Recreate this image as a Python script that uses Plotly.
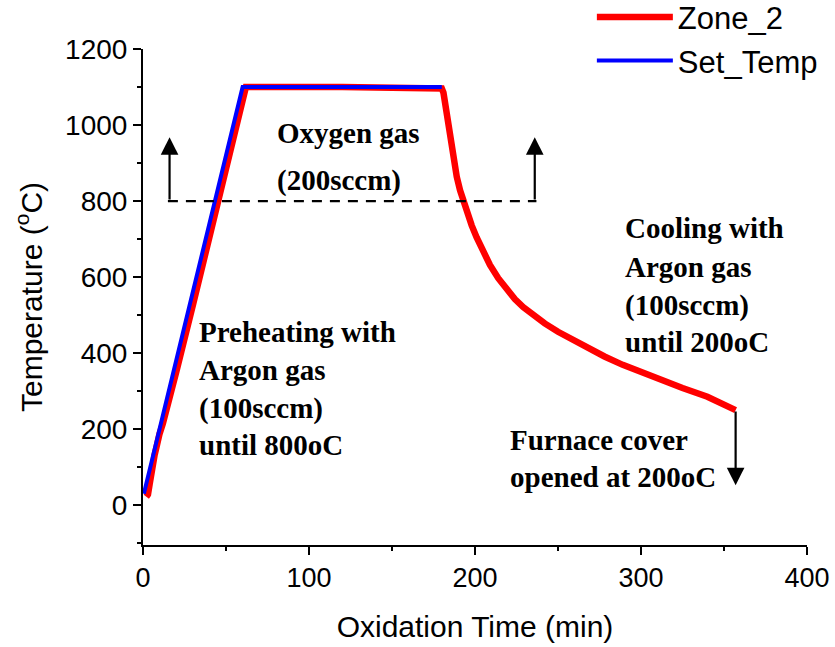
import plotly.graph_objects as go

# ---- data ----
zone2_time = [2.0, 3.0, 4.0, 5.0, 6.0, 7.0, 8.0, 9.0, 10.0, 12.0, 15.0, 20.0, 30.0, 40.0, 50.0, 60.5, 62.0,
              120.0, 178.5, 180.0, 181.0, 182.0, 183.0, 184.0, 185.0, 186.0, 187.0, 189.0, 191.0,
              193.0, 195.0, 198.0, 201.0, 205.0, 209.0, 214.0, 219.0, 224.0, 229.0, 235.0, 242.0,
              250.0, 259.0, 268.0, 278.0, 289.0, 300.0, 312.0, 325.0, 340.0, 357.0]
zone2_temp = [22, 28, 55, 90, 98, 132, 150, 172, 188, 215, 262, 350, 525, 705, 890, 1085, 1100,
              1100, 1100, 1096, 1085, 1058, 1022, 988, 958, 930, 905, 864, 828,
              798, 772, 736, 704, 666, 632, 597, 567, 542, 521, 500, 478,
              456, 434, 413, 391, 369, 349, 329, 308, 285, 250]

set_time = [0.5, 60.0, 180.0]
set_temp = [30, 1100, 1100]

# dashed 800 line and arrows (data coords)
dash_x = [15, 237]
dash_y = [800, 800]
arrows_up_x = [16, 236]
arrow_up_from = 800
arrow_up_to = 968
arrow_down_x = 357
arrow_down_from = 250
arrow_down_to = 52

# text labels (left x, y)
oxygen_lines = ["Oxygen gas", "(200sccm)"]
oxygen_x = 79.5
oxygen_y = [979, 853]
preheat_lines = ["Preheating with", "Argon gas", "(100sccm)", "until 800oC"]
preheat_x = 32.5
preheat_y = [455, 355, 255, 158]
cool_lines = ["Cooling with", "Argon gas", "(100sccm)", "until 200oC"]
cool_x = 289
cool_y = [729, 626, 526, 429]
furnace_lines = ["Furnace cover", "opened at 200oC"]
furnace_x = 220
furnace_y = [171, 74]

x_ticks = [0, 100, 200, 300, 400]
y_ticks = [0, 200, 400, 600, 800, 1000, 1200]

fig = go.Figure()
fig.add_trace(go.Scatter(x=zone2_time, y=zone2_temp, mode="lines", name="Zone_2",
                         line=dict(color="#ff0000", width=6.5), legendgroup="a"))
fig.add_trace(go.Scatter(x=set_time, y=set_temp, mode="lines", name="Set_Temp",
                         line=dict(color="#0000ff", width=4), legendgroup="b"))
fig.add_trace(go.Scatter(x=dash_x, y=dash_y, mode="lines", showlegend=False,
                         line=dict(color="black", width=2.3, dash="10px,8px")))

serif = dict(family="Liberation Serif, Times New Roman, serif", size=29, color="black")
for lines, x0, ys in [(oxygen_lines, oxygen_x, oxygen_y), (preheat_lines, preheat_x, preheat_y),
                      (cool_lines, cool_x, cool_y), (furnace_lines, furnace_x, furnace_y)]:
    for t, yy in zip(lines, ys):
        fig.add_annotation(x=x0, y=yy, text="<b>" + t + "</b>", showarrow=False,
                           xanchor="left", yanchor="middle", font=serif)

for ax_ in arrows_up_x:
    fig.add_annotation(x=ax_, y=arrow_up_to, ax=ax_, ay=arrow_up_from, axref="x", ayref="y",
                       text="", showarrow=True, arrowhead=2, arrowsize=1.6, arrowwidth=2.2,
                       arrowcolor="black")
fig.add_annotation(x=arrow_down_x, y=arrow_down_to, ax=arrow_down_x, ay=arrow_down_from,
                   axref="x", ayref="y", text="", showarrow=True, arrowhead=2, arrowsize=1.6,
                   arrowwidth=2.2, arrowcolor="black")

sans = "Liberation Sans, Arial, sans-serif"
fig.update_layout(
    width=835, height=647,
    margin=dict(l=143, r=28, t=49, b=102, autoexpand=False),
    paper_bgcolor="white", plot_bgcolor="white",
    font=dict(family=sans, size=27, color="black"),
    showlegend=True,
    legend=dict(x=0.676, y=1.118, xanchor="left", yanchor="top", bgcolor="rgba(0,0,0,0)",
                font=dict(family=sans, size=31), traceorder="grouped", tracegroupgap=0,
                itemwidth=76),
    xaxis=dict(range=[0, 400], tickvals=x_ticks, showline=True, linecolor="black", linewidth=2,
               ticks="outside", ticklen=8, tickwidth=2, tickcolor="black", showgrid=False,
               zeroline=False, mirror=False, automargin=False,
               minor=dict(dtick=50, ticks="outside", ticklen=4, tickwidth=2, tickcolor="black",
                          showgrid=False),
               title=dict(text="Oxidation Time (min)", font=dict(size=30), standoff=24),
               tickfont=dict(size=27)),
    yaxis=dict(range=[-105, 1200], tickvals=y_ticks, showline=True, linecolor="black", linewidth=2,
               ticks="outside", ticklen=8, tickwidth=2, tickcolor="black", showgrid=False,
               zeroline=False, mirror=False, automargin=False,
               minor=dict(tickvals=[-100, 100, 300, 500, 700, 900, 1100], ticks="outside",
                          ticklen=4, tickwidth=2, tickcolor="black", showgrid=False),
               title=dict(text="Temperature (<sup>o</sup>C)", font=dict(size=30), standoff=14),
               tickfont=dict(size=28)),
)

fig.write_html("out.html", config={"displayModeBar": False},
               post_script="document.body.style.margin='0';")
